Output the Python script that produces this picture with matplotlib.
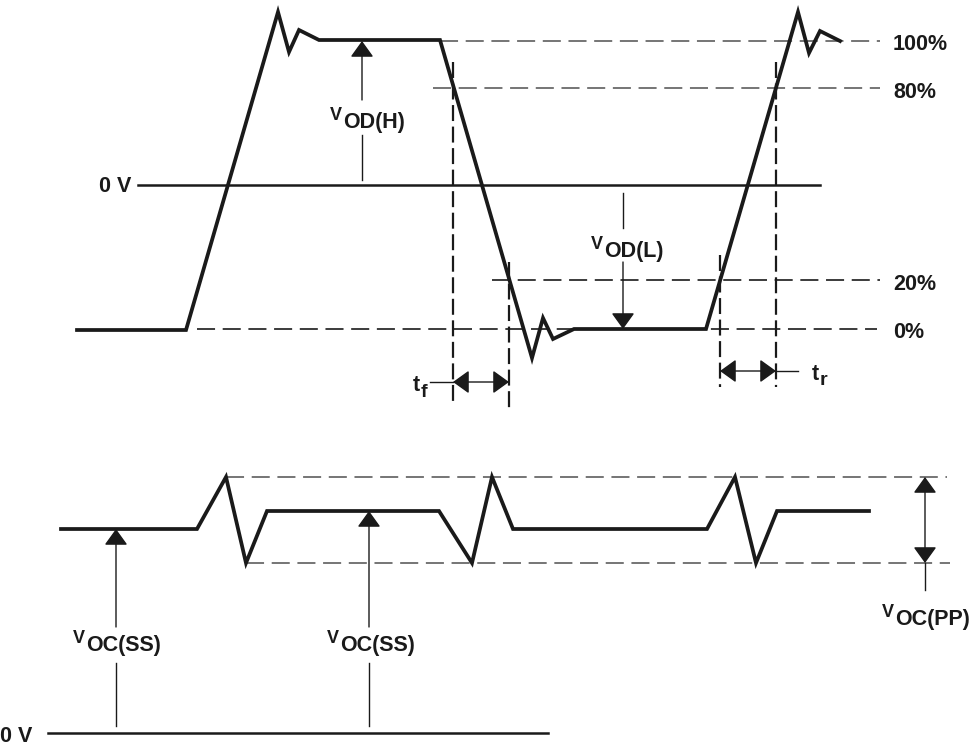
import matplotlib
matplotlib.use("Agg")
import matplotlib.pyplot as plt

plt.rcParams['font.family'] = ['Liberation Sans', 'DejaVu Sans']
plt.rcParams['lines.scale_dashes'] = False

# ---------------- data (diagram coordinates, y grows downward) ----------------
# differential output waveform
top_wave_x = [77, 186, 278, 289, 299, 319, 440, 532, 543, 553, 574, 706, 798, 809, 820, 840]
top_wave_y = [330, 330, 12, 52, 30, 40, 40, 358, 318, 339, 329, 329, 12, 53, 31, 41]

# reference levels
level_labels = ['100%', '80%', '20%', '0%']
level_y = [41, 88, 280, 329]
level_x0 = [440, 433, 492, 197]
level_x1 = [880, 880, 880, 877]
level_colors = ['#5e5e5e', '#5e5e5e', '#1a1a1a', '#1a1a1a']

zero_top_y = 185
zero_top_x = [138, 820]

# timing markers (fall 80%->20%, rise 20%->80%)
tf_x = [453, 509]
tf_vy = [(62, 405), (262, 408)]
tf_arrow_y = 382
tr_x = [720, 776]
tr_vy = [(255, 387), (62, 387)]
tr_arrow_y = 371

# common-mode output waveform
bot_wave_x = [61, 197, 226, 246, 267, 439, 472, 492, 513, 707, 735, 756, 777, 869]
bot_wave_y = [529, 529, 477, 563, 511, 511, 563, 477, 529, 529, 477, 563, 511, 511]
pp_top_y, pp_bot_y = 477, 563
pp_top_x = [226, 947]
pp_bot_x = [246, 950]
zero_bot_y = 733
zero_bot_x = [48, 548]
vocss_x = [116, 369]
vocss_tip_y = [529, 511]

# ---------------- drawing ----------------
fig = plt.figure(figsize=(9.72, 7.47), dpi=100)
ax = fig.add_axes([0, 0, 1, 1])
ax.set_xlim(0, 972)
ax.set_ylim(747, 0)
ax.axis('off')

WAVE_LW = 2.7
BOLD = dict(fontweight='bold', color='#1a1a1a')
FS = 15.5

# waveforms
ax.plot(top_wave_x, top_wave_y, color='#1a1a1a', lw=WAVE_LW, solid_joinstyle='miter', zorder=5)
ax.plot(bot_wave_x, bot_wave_y, color='#1a1a1a', lw=WAVE_LW, solid_joinstyle='miter', zorder=5)

# level dashed lines + labels
for lab, y, x0, x1, c in zip(level_labels, level_y, level_x0, level_x1, level_colors):
    ax.plot([x0, x1], [y, y], color=c, lw=1.2, dashes=(13, 5.5), zorder=2)
    ax.text(893, y + 4, lab, fontsize=FS, ha='left', va='center', **BOLD)

# zero volt lines
ax.plot(zero_top_x, [zero_top_y, zero_top_y], color='#1a1a1a', lw=1.8, zorder=3)
ax.text(131, zero_top_y + 2, '0 V', fontsize=FS, ha='right', va='center', **BOLD)
ax.plot(zero_bot_x, [zero_bot_y, zero_bot_y], color='#1a1a1a', lw=1.8, zorder=3)
ax.text(0, zero_bot_y + 4, '0 V', fontsize=FS, ha='left', va='center', **BOLD)

# vertical dashed timing lines
for x, (y0, y1) in zip(tf_x + tr_x, tf_vy + tr_vy):
    ax.plot([x, x], [y0, y1], color='#1a1a1a', lw=1.6, dashes=(11.5, 4), zorder=2)

AH = '-|>,head_length=1.0,head_width=0.72'
AH2 = '<|-|>,head_length=1.0,head_width=0.72'


def arrow(x0, y0, x1, y1, style=AH, lw=1.0):
    ax.annotate('', xy=(x1, y1), xytext=(x0, y0),
                arrowprops=dict(arrowstyle=style, color='#1a1a1a', lw=lw,
                                shrinkA=0, shrinkB=0, mutation_scale=10),
                zorder=6)


def sublabel(x0, yb, main, sub, dy=8, fs_main=13, fs_sub=FS):
    ax.text(x0, yb, main, fontsize=fs_main, ha='right', va='baseline', **BOLD)
    ax.text(x0 + 1, yb + dy, sub, fontsize=fs_sub, ha='left', va='baseline', **BOLD)


# V_OD(H)
ax.plot([362, 362], [180, 135], color='#1a1a1a', lw=1.0)
arrow(362, 100, 362, level_y[0])
sublabel(342, 120, 'V', 'OD(H)')

# V_OD(L)
ax.plot([623, 623], [193, 228], color='#1a1a1a', lw=1.0)
arrow(623, 262, 623, level_y[3])
sublabel(603, 249, 'V', 'OD(L)')

# t_f
arrow(tf_x[0], tf_arrow_y, tf_x[1], tf_arrow_y, style=AH2)
ax.plot([430, tf_x[0]], [tf_arrow_y, tf_arrow_y], color='#1a1a1a', lw=1.0)
sublabel(420, 391, 't', 'f', dy=6, fs_main=FS, fs_sub=14)

# t_r
arrow(tr_x[0], tr_arrow_y, tr_x[1], tr_arrow_y, style=AH2)
ax.plot([tr_x[1], 798], [tr_arrow_y, tr_arrow_y], color='#1a1a1a', lw=1.0)
sublabel(819, 380, 't', 'r', dy=5, fs_main=FS, fs_sub=14)

# common-mode peak-to-peak dashed lines
ax.plot(pp_top_x, [pp_top_y, pp_top_y], color='#5e5e5e', lw=1.2, dashes=(13, 5.5), zorder=2)
ax.plot(pp_bot_x, [pp_bot_y, pp_bot_y], color='#5e5e5e', lw=1.2, dashes=(13, 5.5), zorder=2)

# V_OC(PP)
arrow(925, pp_top_y, 925, pp_bot_y, style=AH2)
ax.plot([925, 925], [pp_bot_y, 590], color='#1a1a1a', lw=1.0)
sublabel(894, 617, 'V', 'OC(PP)')

# V_OC(SS) arrows
for x, tip in zip(vocss_x, vocss_tip_y):
    ax.plot([x, x], [726, 663], color='#1a1a1a', lw=1.0)
    arrow(x, 627, x, tip)
sublabel(85, 643, 'V', 'OC(SS)')
sublabel(339, 643, 'V', 'OC(SS)')

fig.savefig('out.png', dpi=100)
